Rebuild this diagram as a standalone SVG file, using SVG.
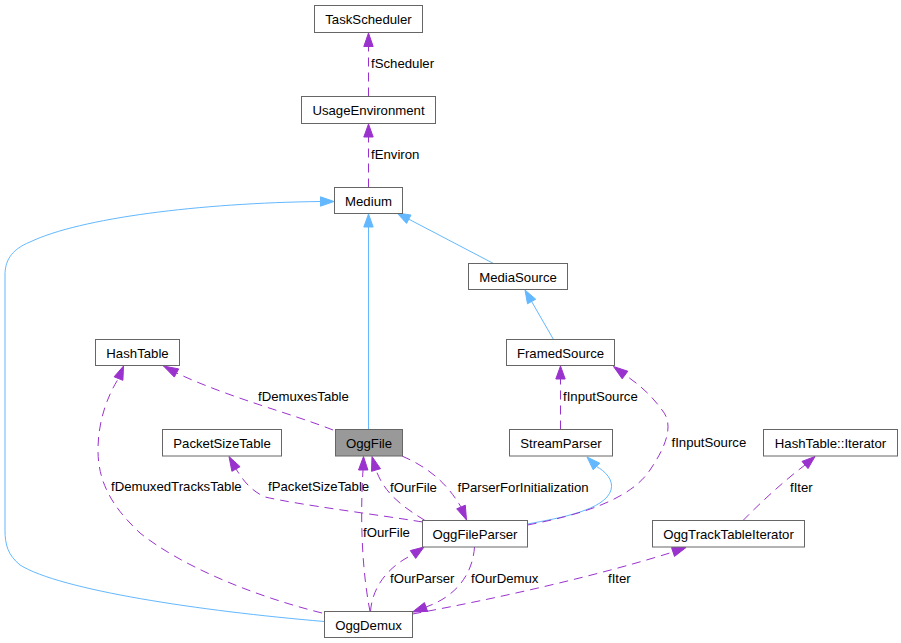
<svg xmlns="http://www.w3.org/2000/svg" width="901" height="643" viewBox="0 0 901 643">
<style>
.node rect{fill:#fff;stroke:#666;stroke-width:1}
.node text{font-family:"Liberation Sans",Arial,sans-serif;font-size:13.2px;fill:#000;text-anchor:middle}
.lbl{font-family:"Liberation Sans",Arial,sans-serif;font-size:13.2px;fill:#000}
.inh{fill:none;stroke:#63b8ff;stroke-width:1}
.inhA{fill:#63b8ff;stroke:#63b8ff;stroke-width:1}
.use{fill:none;stroke:#9a32cd;stroke-width:1;stroke-dasharray:9,6}
.useA{fill:#9a32cd;stroke:#9a32cd;stroke-width:1}
</style>
<rect width="901" height="643" fill="#fff"/>
<g id="edges">
  <path class="use" d="M368.5,96.5 V46.5"/>
  <polygon class="useA" points="368.5,33 363.8,46.5 373.2,46.5"/>
  <text class="lbl" x="371" y="68">fScheduler</text>

  <path class="use" d="M368.5,187.5 V137"/>
  <polygon class="useA" points="368.5,124 363.8,137 373.2,137"/>
  <text class="lbl" x="371" y="159">fEnviron</text>

  <path class="inh" d="M368.5,429.5 V227"/>
  <polygon class="inhA" points="368.5,214 363.8,227 373.2,227"/>

  <path class="inh" d="M493.5,263.5 L408.8,219.2"/>
  <polygon class="inhA" points="397,213 406.6,223.4 411,215"/>

  <path class="inh" d="M553.5,339.5 L531.6,301.5"/>
  <polygon class="inhA" points="525,290 527.5,303.8 535.7,299.2"/>

  <path class="inh" d="M324.5,621.5 C200,611 60,590 20,565 C8,555 5,545 5,530 L5,275 C5,262 10,250 30,242 C80,218 200,203 320.5,201.5"/>
  <polygon class="inhA" points="334,201.5 320.5,196.8 320.5,206.2"/>

  <path class="inh" d="M527.5,524 C560,518 605,510 611,490 C614,480 605,471 596.5,466.5"/>
  <polygon class="inhA" points="587,457 593.2,469.8 599.8,463.2"/>

  <path class="use" d="M333,430 C290,413 230,398 176.5,373"/>
  <polygon class="useA" points="163.5,366 174.3,377.1 178.7,368.9"/>
  <text class="lbl" x="258" y="400.5">fDemuxesTable</text>

  <path class="use" d="M322,613 C250,595 180,565 140,533 C110,505 98,480 98,450 C98,420 108,395 118.5,378.5"/>
  <polygon class="useA" points="123.5,366 114.1,376.8 122.9,380.3"/>
  <text class="lbl" x="111" y="491">fDemuxedTracksTable</text>

  <path class="use" d="M422.5,522 C380,515 300,505 265,497 C250,490 243,480 236,469"/>
  <polygon class="useA" points="229,456.5 231.9,471.3 240.1,466.7"/>
  <text class="lbl" x="268" y="491">fPacketSizeTable</text>

  <path class="use" d="M425,520.5 C405,508 385,495 376,470"/>
  <polygon class="useA" points="372,456.5 371.5,471.3 380.5,468.7"/>
  <text class="lbl" x="390" y="491.5">fOurFile</text>

  <path class="use" d="M370,611.5 C362,570 360,520 363,470"/>
  <polygon class="useA" points="363.5,456.5 358.5,470 367.9,470"/>
  <text class="lbl" x="363" y="537">fOurFile</text>

  <path class="use" d="M402,456 C425,466 445,480 461,507"/>
  <polygon class="useA" points="466.5,520 465.3,505.2 456.7,508.8"/>
  <text class="lbl" x="457.5" y="491.5">fParserForInitialization</text>

  <path class="use" d="M560.5,429.5 V379"/>
  <polygon class="useA" points="560.5,366 555.8,379 565.2,379"/>
  <text class="lbl" x="563" y="400.5">fInputSource</text>

  <path class="use" d="M527.5,525 C580,515 630,500 650,470 C665,448 675,425 662,410 C652,396 640,385 625,375"/>
  <polygon class="useA" points="613.5,366.5 622.2,378.8 627.8,371.2"/>
  <text class="lbl" x="671.5" y="446.5">fInputSource</text>

  <path class="use" d="M743,520.5 C760,503 785,480 805,465"/>
  <polygon class="useA" points="815,456.5 802,461.4 808,468.6"/>
  <text class="lbl" x="790" y="491.5">fIter</text>

  <path class="use" d="M412.5,614 C500,598 600,575 673,552"/>
  <polygon class="useA" points="686,547.5 671.5,547.6 674.5,556.4"/>
  <text class="lbl" x="608" y="582.5">fIter</text>

  <path class="use" d="M474.5,547 C473,570 460,595 426,607"/>
  <polygon class="useA" points="412.5,612 427.6,611.4 424.4,602.6"/>
  <text class="lbl" x="471" y="582.5">fOurDemux</text>

  <path class="use" d="M370.5,611.5 C372,590 385,568 413,554.5"/>
  <polygon class="useA" points="424,547 410.3,550.6 415.7,558.4"/>
  <text class="lbl" x="390" y="582.5">fOurParser</text>
</g>
<g id="TaskScheduler" class="node"><rect x="314.5" y="5.5" width="108" height="27"/><text x="368.5" y="23.5">TaskScheduler</text></g>
<g id="UsageEnvironment" class="node"><rect x="301.5" y="96.5" width="134" height="27"/><text x="368.5" y="114.5">UsageEnvironment</text></g>
<g id="Medium" class="node"><rect x="334.5" y="187.5" width="68" height="26"/><text x="368.5" y="205.5">Medium</text></g>
<g id="MediaSource" class="node"><rect x="468.5" y="263.5" width="99" height="26"/><text x="518" y="281.5">MediaSource</text></g>
<g id="FramedSource" class="node"><rect x="506.5" y="339.5" width="108" height="26"/><text x="560.5" y="357.5">FramedSource</text></g>
<g id="HashTable" class="node"><rect x="95.5" y="339.5" width="84" height="26"/><text x="137.5" y="357.5">HashTable</text></g>
<g id="PacketSizeTable" class="node"><rect x="162.5" y="429.5" width="119" height="26.5"/><text x="222" y="447.5">PacketSizeTable</text></g>
<g id="OggFile" class="node"><rect x="335.5" y="429.5" width="67" height="26.5" style="fill:#999"/><text x="369" y="447.5">OggFile</text></g>
<g id="StreamParser" class="node"><rect x="509.5" y="429.5" width="103" height="26.5"/><text x="561" y="447.5">StreamParser</text></g>
<g id="HashTableIterator" class="node"><rect x="763.5" y="429.5" width="134" height="26.5"/><text x="830.5" y="447.5">HashTable::Iterator</text></g>
<g id="OggFileParser" class="node"><rect x="422.5" y="520.5" width="105" height="26.5"/><text x="475" y="538.5">OggFileParser</text></g>
<g id="OggTrackTableIterator" class="node"><rect x="652.5" y="520.5" width="152" height="26.5"/><text x="728.5" y="538.5">OggTrackTableIterator</text></g>
<g id="OggDemux" class="node"><rect x="324.5" y="611.5" width="88" height="26"/><text x="368.5" y="629.5">OggDemux</text></g>
</svg>
